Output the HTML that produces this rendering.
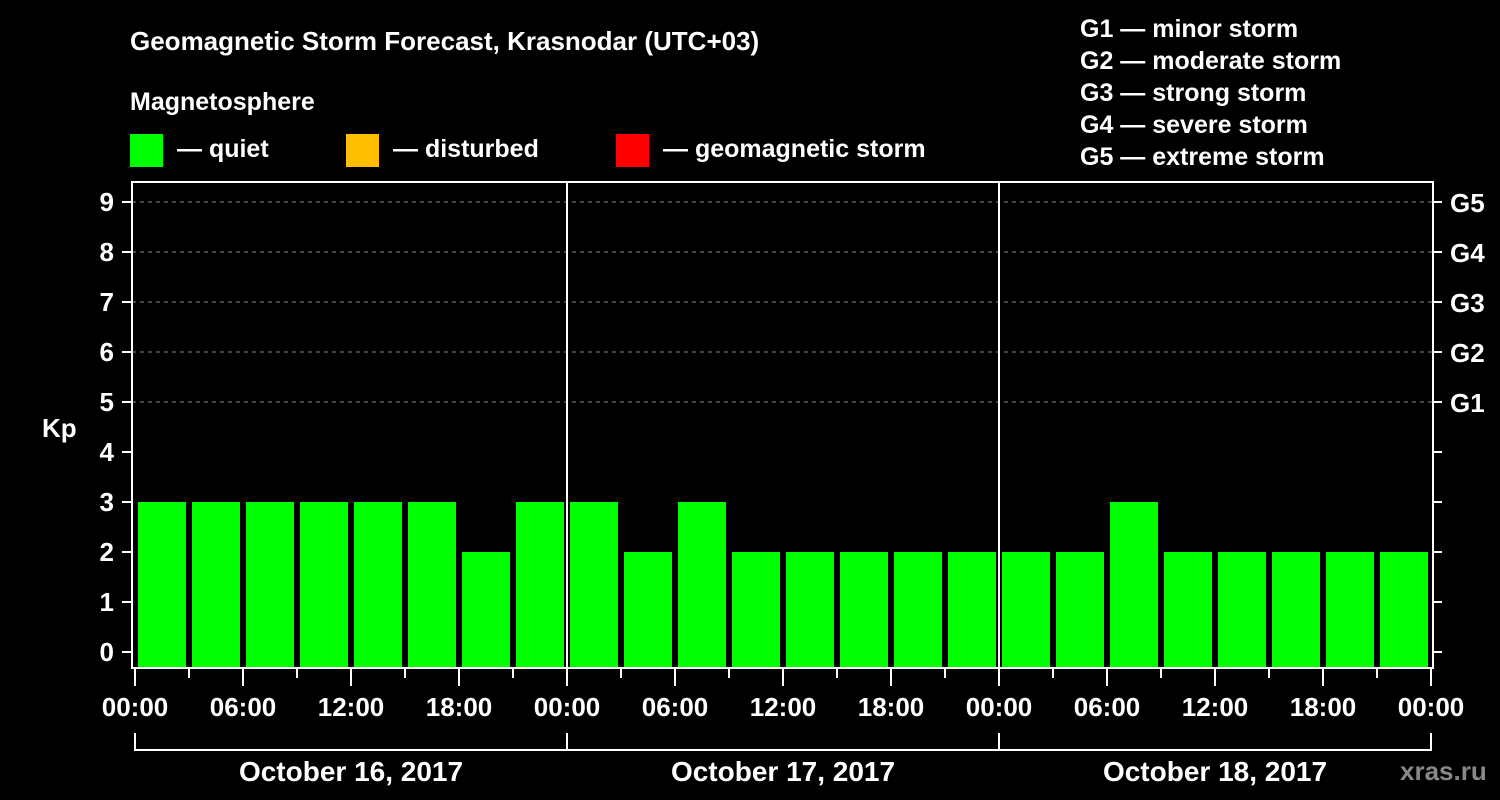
<!DOCTYPE html>
<html><head><meta charset="utf-8"><style>
html,body{margin:0;padding:0;background:#000;}
svg{display:block;font-family:"Liberation Sans",Arial,sans-serif;font-weight:bold;}
</style></head><body>
<svg id="chart" width="1500" height="800" viewBox="0 0 1500 800" xmlns="http://www.w3.org/2000/svg">
<rect width="1500" height="800" fill="#000"/>
<text x="130" y="50" fill="#fff" font-size="26">Geomagnetic Storm Forecast, Krasnodar (UTC+03)</text>
<text x="130" y="110" fill="#fff" font-size="25">Magnetosphere</text>
<g><rect x="130" y="134" width="33" height="33" fill="#00ff00"/><text x="177" y="157" fill="#fff" font-size="25">— quiet</text></g>
<g><rect x="346" y="134" width="33" height="33" fill="#ffbf00"/><text x="393" y="157" fill="#fff" font-size="25">— disturbed</text></g>
<g><rect x="616" y="134" width="33" height="33" fill="#ff0000"/><text x="663" y="157" fill="#fff" font-size="25">— geomagnetic storm</text></g>
<g fill="#fff" font-size="25">
<text x="1080" y="37">G1 — minor storm</text>
<text x="1080" y="69">G2 — moderate storm</text>
<text x="1080" y="101">G3 — strong storm</text>
<text x="1080" y="133">G4 — severe storm</text>
<text x="1080" y="165">G5 — extreme storm</text>
</g>
<text x="42" y="437" fill="#fff" font-size="26">Kp</text>
<g id="grid"></g><g id="bars"></g><g id="axes"></g>
<text x="1400" y="780" fill="#888" font-size="26">xras.ru</text>
</svg>
<script>
const values = [3,3,3,3,3,3,2,3, 3,2,3,2,2,2,2,2, 2,2,3,2,2,2,2,2];
const yTicks = [0,1,2,3,4,5,6,7,8,9];
const gLabels = ["G1","G2","G3","G4","G5"];
const xLabels = ["00:00","06:00","12:00","18:00","00:00","06:00","12:00","18:00","00:00","06:00","12:00","18:00","00:00"];
const days = ["October 16, 2017","October 17, 2017","October 18, 2017"];
const NS="http://www.w3.org/2000/svg";
const L=135, R=1431, TOP=182, BOT=668, AX=132, AR=1433;
const slot=(R-L)/values.length;
function y(v){return 652-v*50;}
function x(i){return L+i*slot;}
function mk(tag,attrs,parent,txt){const e=document.createElementNS(NS,tag);for(const k in attrs)e.setAttribute(k,attrs[k]);if(txt!==undefined)e.textContent=txt;parent.appendChild(e);return e;}
const grid=document.getElementById('grid'),bars=document.getElementById('bars'),axes=document.getElementById('axes');
yTicks.forEach(v=>{
  if(v>=5){const gl=mk('line',{x1:AX,x2:AR,y1:y(v),y2:y(v),stroke:'#888','stroke-dasharray':'4,4','stroke-width':1},grid);
  
  }
  const t=mk('line',{x1:122,x2:AX,y1:y(v),y2:y(v),stroke:'#fff','stroke-width':2},axes);
  
  
  const lb=mk('text',{x:114,y:y(v)+9,fill:'#fff','font-size':26,'text-anchor':'end'},axes,String(v));
  
  
  mk('line',{x1:AR,x2:AR+9,y1:y(v),y2:y(v),stroke:'#fff','stroke-width':2},axes);
});
gLabels.forEach((g,i)=>{
  const t=mk('text',{x:1450,y:y(i+5)+10,fill:'#fff','font-size':26},axes,g);
  
  
});
values.forEach((v,i)=>{
  const b=mk('rect',{x:x(i)+3,y:y(v),width:slot-6,height:BOT-1-y(v),fill:'#00ff00'},bars);
  
  
});
mk('rect',{x:AX,y:TOP,width:AR-AX,height:BOT-TOP,fill:'none',stroke:'#fff','stroke-width':2},axes);
for(let d=1;d<days.length;d++){const s=mk('line',{x1:x(d*8),x2:x(d*8),y1:TOP,y2:BOT,stroke:'#fff','stroke-width':2},axes);
  
  }
for(let i=0;i<=values.length;i++){
  const major=i%2===0;
  mk('line',{x1:x(i),x2:x(i),y1:BOT,y2:major?686:678,stroke:'#fff','stroke-width':2},axes);
  if(major){const t=mk('text',{x:x(i),y:716,fill:'#fff','font-size':26,'text-anchor':'middle'},axes,xLabels[i/2]);
  
  }
}
mk('path',{d:`M${x(0)} 733V750H${x(24)}V733`,fill:'none',stroke:'#fff','stroke-width':2},axes);
days.forEach((d,i)=>{
  mk('line',{x1:x(i*8),x2:x(i*8),y1:733,y2:750,stroke:'#fff','stroke-width':2},axes);
  const t=mk('text',{x:x(i*8+4),y:781,fill:'#fff','font-size':28,'text-anchor':'middle'},axes,d);
  
  
});
</script>
</body></html>
